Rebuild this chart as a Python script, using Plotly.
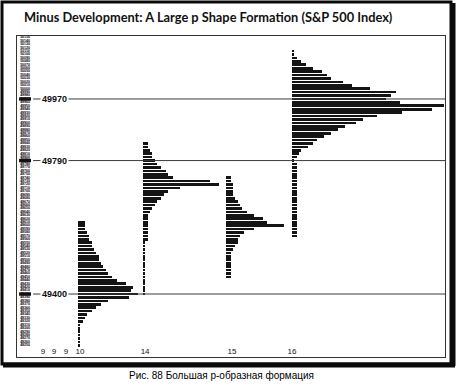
import plotly.graph_objects as go

# ---------------- data ----------------
TICK = 10  # price step of one profile row
DAY_LABELS = ["10", "14", "15", "16"]
DAY_POS = [26.5, 54.8, 90.9, 119.6]          # x position (TPO columns) where each day's profile starts
DAY_TOP = [49610, 49840, 49740, 50110]       # highest price of each day's profile

D10 = [3, 3, 3, 4, 5, 5, 6, 6, 7, 8,
       9, 9, 10, 11, 12, 13, 15, 17, 21, 24,
       23, 26, 22, 13, 10, 8, 6, 4, 3, 2,
       1, 1, 1, 1, 1, 1, 1]
D14 = [2, 2, 3, 4, 4, 5, 6, 8, 10, 11,
       13, 29, 33, 16, 11, 9, 8, 6, 5, 4,
       3, 2, 2, 2, 2, 2, 2, 2, 2,
       1, 1, 1, 1, 1, 1, 1, 1, 1, 1, 1, 1, 1, 1, 1, 1]
D15 = [2, 2, 3, 3, 3, 3, 4, 5, 6, 7,
       9, 12, 16, 18, 25, 12, 8, 6, 5, 5,
       4, 3, 2, 2, 2, 2, 2, 2, 2, 2]
D16 = [1, 1, 2, 4, 6, 9, 13, 15, 17, 22,
       26, 34, 45, 43, 41, 47, 66, 61, 48, 37,
       31, 28, 23, 20, 17, 14, 11, 9, 7, 4,
       3, 2, 1,
       2, 2, 2, 2, 2, 2, 2, 2, 2, 2, 2, 2, 2, 2, 2, 2, 2, 2, 2, 2, 2, 2]
PROFILES = [D10, D14, D15, D16]

REF_PRICES = [49970, 49790, 49400]
PRICE_COL = list(range(49250, 50160, TICK))   # left-hand price ladder

XTICK_POS = [11.3, 16.1, 21.3, 27.4, 55.7, 93.5, 119.6]
XTICK_TEXT = ["9", "9", "9", "10", "14", "15", "16"]

TITLE = "Minus Development: A Large p Shape Formation (S&P 500 Index)"
CAPTION = "Рис. 88 Большая р-образная формация"

# ---------------- figure ----------------
W, H = 461, 391
L, R, T, B = 17, 16, 36, 34
X_RANGE = [0, 186.1]
Y_RANGE = [49216, 50154]

fig = go.Figure()

for lab, pos, top, widths in zip(DAY_LABELS, DAY_POS, DAY_TOP, PROFILES):
    prices = [top - TICK * i for i in range(len(widths))]
    fig.add_trace(go.Bar(
        orientation="h", y=prices, x=widths, base=pos, width=TICK * 0.78,
        marker=dict(color="#141414", line=dict(width=0)),
        name=lab, showlegend=False, hoverinfo="skip"))

# price ladder on the left
fig.add_trace(go.Scatter(
    x=[3.5] * len(PRICE_COL), y=PRICE_COL, mode="text",
    text=[str(p) for p in PRICE_COL],
    textfont=dict(size=3.5, color="#000", family="Liberation Sans", weight="bold"),
    showlegend=False, hoverinfo="skip"))

shapes = []
annotations = []
for p in REF_PRICES:
    shapes.append(dict(type="line", xref="x", yref="y", x0=7.0, x1=X_RANGE[1],
                       y0=p, y1=p, line=dict(color="#3a3a3a", width=1)))
    shapes.append(dict(type="rect", xref="x", yref="y", x0=0.9, x1=6.1,
                       y0=p - 5, y1=p + 5, fillcolor="#111", line=dict(width=0)))
    annotations.append(dict(x=16.5, y=p, xref="x", yref="y", text="<b>%d</b>" % p,
                            showarrow=False, bgcolor="white", borderpad=1,
                            font=dict(size=9, color="#111", family="Liberation Sans")))


def px2paper_x(px):
    return (px - L) / (W - L - R)


def px2paper_y(py):
    return 1 - (py - T) / (H - T - B)


# outer frame of the figure plate
shapes.append(dict(type="rect", xref="paper", yref="paper",
                   x0=px2paper_x(2), x1=px2paper_x(451),
                   y0=px2paper_y(364), y1=px2paper_y(2),
                   line=dict(color="#0a0a0a", width=3)))
shapes.append(dict(type="line", xref="paper", yref="paper",
                   x0=px2paper_x(453), x1=px2paper_x(453),
                   y0=px2paper_y(366), y1=px2paper_y(3),
                   line=dict(color="#0a0a0a", width=5)))
shapes.append(dict(type="line", xref="paper", yref="paper",
                   x0=px2paper_x(3), x1=px2paper_x(455),
                   y0=px2paper_y(365), y1=px2paper_y(365),
                   line=dict(color="#0a0a0a", width=5)))

annotations.append(dict(x=px2paper_x(22), y=px2paper_y(17), xref="paper", yref="paper",
                        xanchor="left", yanchor="middle", showarrow=False,
                        text="<b>" + TITLE.replace("&", "&amp;") + "</b>",
                        font=dict(size=12.8, color="#111", family="Lato")))
annotations.append(dict(x=px2paper_x(221), y=px2paper_y(375), xref="paper", yref="paper",
                        xanchor="center", yanchor="middle", showarrow=False,
                        text=CAPTION,
                        font=dict(size=10, color="#000", family="Liberation Sans")))

fig.update_layout(
    width=W, height=H, margin=dict(l=L, r=R, t=T, b=B, pad=0),
    paper_bgcolor="white", plot_bgcolor="white",
    barmode="overlay", bargap=0,
    shapes=shapes, annotations=annotations,
    xaxis=dict(range=X_RANGE, showgrid=False, zeroline=False, showline=True, mirror=True,
               linecolor="#333", linewidth=1, tickvals=XTICK_POS, ticktext=XTICK_TEXT,
               ticks="", ticklabelposition="inside",
               tickfont=dict(size=8, color="#111", family="Liberation Sans")),
    yaxis=dict(range=Y_RANGE, showgrid=False, zeroline=False, showline=True, mirror=True,
               linecolor="#333", linewidth=1, showticklabels=False, ticks=""),
)

fig.write_html("out.html", config={"displayModeBar": False},
               post_script="document.body.style.margin='0';")
